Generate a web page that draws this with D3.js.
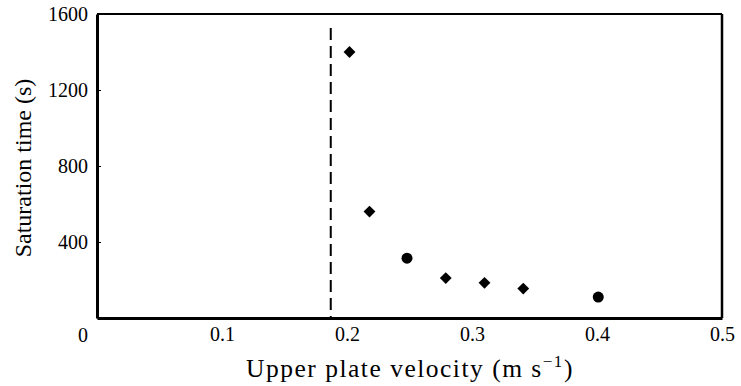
<!DOCTYPE html>
<html><head><meta charset="utf-8">
<script src="https://cdn.jsdelivr.net/npm/d3@7"></script>
<style>body{margin:0;background:#fff}svg{display:block}svg text{font-family:"Times New Roman","Liberation Serif",serif !important;fill:#000}</style>
</head><body><svg id="c" width="741" height="386"></svg>
<script>
const xTicks = [0.1, 0.2, 0.3, 0.4, 0.5];
const yTicks = [400, 800, 1200, 1600];
const diamondX = [0.202, 0.218, 0.279, 0.310, 0.341];
const diamondY = [1400, 560, 210, 185, 155];
const circleX = [0.248, 0.401];
const circleY = [315, 110];
const criticalVelocity = 0.187;

const svg = d3.select("#c");
const m = {l:97, r:722, t:14, b:318};
const x = d3.scaleLinear().domain([0,0.5]).range([m.l, m.r]);
const y = d3.scaleLinear().domain([0,1600]).range([m.b, m.t]);
const serif = '"Times New Roman","Liberation Serif",serif';

// frame
svg.append("line").attr("x1",m.l).attr("x2",m.r).attr("y1",m.t).attr("y2",m.t).attr("stroke","#000").attr("stroke-width",2);
svg.append("line").attr("x1",m.r).attr("x2",m.r).attr("y1",m.t).attr("y2",m.b).attr("stroke","#000").attr("stroke-width",2.5);

const xa = svg.append("g").attr("transform",`translate(0,${m.b})`)
  .call(d3.axisBottom(x).tickValues(xTicks).tickSize(0).tickPadding(9).tickFormat(d3.format(".1f")));
xa.attr("font-family",serif).attr("font-size",20);
xa.select(".domain").attr("stroke-width",3);

const ya = svg.append("g").attr("transform",`translate(${m.l},0)`)
  .call(d3.axisLeft(y).tickValues(yTicks).tickSizeInner(-4).tickSizeOuter(0).tickPadding(9).tickFormat(d3.format("d")));
ya.attr("font-family",serif).attr("font-size",20);
ya.select(".domain").attr("stroke-width",3);
svg.append("text").attr("x",83).attr("y",342).attr("text-anchor","middle").attr("font-size",20).attr("font-family",serif).text("0");

// dashed line
svg.append("line").attr("x1",x(criticalVelocity)).attr("x2",x(criticalVelocity))
  .attr("y1",28).attr("y2",m.b).attr("stroke","#000").attr("stroke-width",2).attr("stroke-dasharray","12,6");

// markers
const dsym = d3.symbol().type(d3.symbolSquare).size(70);
svg.append("g").selectAll("path").data(diamondX.map((v,i)=>[v,diamondY[i]])).join("path")
  .attr("d",dsym).attr("transform",d=>`translate(${x(d[0])},${y(d[1])}) rotate(45)`).attr("fill","#000");
svg.append("g").selectAll("circle").data(circleX.map((v,i)=>[v,circleY[i]])).join("circle")
  .attr("cx",d=>x(d[0])).attr("cy",d=>y(d[1])).attr("r",5.5).attr("fill","#000");

// titles
const xt = svg.append("text").attr("x",410).attr("y",377).attr("text-anchor","middle").attr("font-size",25.5).attr("letter-spacing",1.5).attr("font-family",serif);
xt.append("tspan").text("Upper plate velocity (m s");
xt.append("tspan").attr("dy",-10).attr("font-size",17).text("−1");
xt.append("tspan").attr("dy",10).text(")");
svg.append("text").attr("transform","translate(31,168) rotate(-90)").attr("text-anchor","middle").attr("font-size",24).attr("font-family",serif).text("Saturation time (s)");
</script></body></html>
